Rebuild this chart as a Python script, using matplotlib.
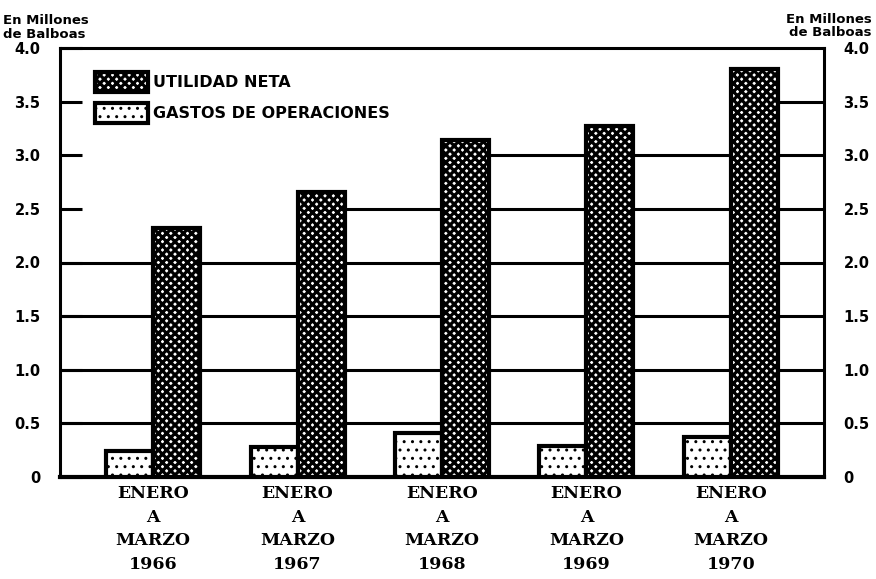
import matplotlib
matplotlib.use("Agg")
from matplotlib import pyplot as plt
import numpy as np

PERIODS = ["1966", "1967", "1968", "1969", "1970"]
UTILIDAD_NETA = [2.32, 2.66, 3.14, 3.27, 3.80]
GASTOS_OPERACIONES = [0.24, 0.28, 0.41, 0.29, 0.37]
Y_TICKS = [0, 0.5, 1.0, 1.5, 2.0, 2.5, 3.0, 3.5, 4.0]
Y_TICK_LABELS = ["0", "0.5", "1.0", "1.5", "2.0", "2.5", "3.0", "3.5", "4.0"]

DOT_LW = 1.0
CROSS_LW = 2.3

plt.rcParams['hatch.color'] = 'black'

fig = plt.figure(figsize=(8.76, 5.79), dpi=100)
ax = fig.add_axes([60 / 876, 102 / 579, 764 / 876, 429 / 579])

x = np.arange(len(PERIODS))
width = 0.325

# upper grid lines only start where the tall bars begin
grid_start = {0.5: None, 1.0: None, 1.5: None, 2.0: None, 2.5: 1, 3.0: 2, 3.5: 4}
xlim = (-0.645, 4.645)
for level, start in grid_start.items():
    xmin = xlim[0] if start is None else x[start]
    ax.hlines(level, xmin, xlim[1], color='black', lw=2.2, zorder=1)

with plt.rc_context({'hatch.linewidth': DOT_LW}):
    ax.bar(x - width, GASTOS_OPERACIONES, width, align='edge', facecolor='white',
           edgecolor='black', linewidth=3, hatch='..', zorder=3,
           label='GASTOS DE OPERACIONES')
with plt.rc_context({'hatch.linewidth': CROSS_LW}):
    ax.bar(x, UTILIDAD_NETA, width, align='edge', facecolor='white',
           edgecolor='black', linewidth=3, hatch='xxxx', zorder=3,
           label='UTILIDAD NETA')

ax.set_xlim(*xlim)
ax.set_ylim(0, 4.0)

for side in ['left', 'right', 'top']:
    ax.spines[side].set_linewidth(2.2)
ax.spines['bottom'].set_linewidth(3)

ax.set_yticks(Y_TICKS)
ax.set_yticklabels(Y_TICK_LABELS, fontsize=10.5, fontweight='heavy',
                   family='DejaVu Sans')
ax.tick_params(axis='y', direction='in', length=16, width=2.2, pad=14,
               left=True, right=False, labelleft=True, labelright=True)

ax.set_xticks(x)
ax.set_xticklabels(["ENERO\nA\nMARZO\n" + p for p in PERIODS], fontsize=12.5,
                   family='DejaVu Serif', fontweight='bold', linespacing=1.5)
ax.tick_params(axis='x', length=0, pad=6)

handles, labels = ax.get_legend_handles_labels()
with plt.rc_context({'hatch.linewidth': CROSS_LW}):
    leg = ax.legend(handles[::-1], labels[::-1], loc='upper left',
                    bbox_to_anchor=(0.046, 0.945), frameon=False,
                    borderpad=0, borderaxespad=0, handlelength=3.3,
                    handleheight=1.6, handletextpad=0.3, labelspacing=0.65,
                    prop={'family': 'DejaVu Sans', 'weight': 'bold', 'size': 11.5})
for h, lw in zip(leg.legend_handles, [CROSS_LW, DOT_LW]):
    if hasattr(h, 'set_hatch_linewidth'):
        h.set_hatch_linewidth(lw)

fig.text(0.003, 0.975, "En Millones\nde Balboas", ha='left', va='top',
         fontsize=9.5, fontweight='heavy', linespacing=1.05)
fig.text(0.995, 0.978, "En Millones\nde Balboas", ha='right', va='top',
         fontsize=9.5, fontweight='heavy', linespacing=1.05)

fig.savefig("out.png", dpi=100)
